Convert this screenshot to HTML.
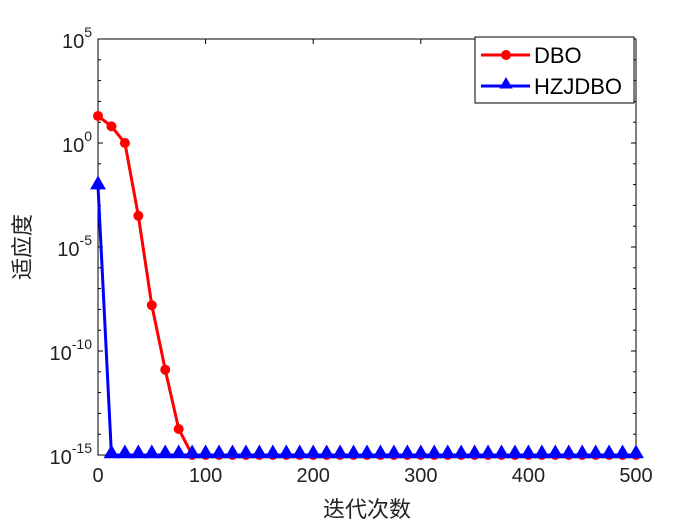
<!DOCTYPE html>
<html><head><meta charset="utf-8"><style>
body{margin:0;background:#fff;}
svg text{font-family:"Liberation Sans","Noto Sans CJK SC",sans-serif;}
</style></head><body>
<svg id="chart" width="700" height="525">
<rect width="700" height="525" fill="#fff"/>
<g id="axes"></g><g id="series"></g><g id="legend"></g>
</svg>
<script>
const iterations=[0,12.5,25,37.5,50,62.5,75,87.5,100,112.5,125,137.5,150,162.5,175,187.5,200,212.5,225,237.5,250,262.5,275,287.5,300,312.5,325,337.5,350,362.5,375,387.5,400,412.5,425,437.5,450,462.5,475,487.5,500];
const dboLog=[1.3,0.8,0,-3.5,-7.8,-10.9,-13.75,-15,-15,-15,-15,-15,-15,-15,-15,-15,-15,-15,-15,-15,-15,-15,-15,-15,-15,-15,-15,-15,-15,-15,-15,-15,-15,-15,-15,-15,-15,-15,-15,-15,-15];
const hzjLog=[-2.07,-15,-15,-15,-15,-15,-15,-15,-15,-15,-15,-15,-15,-15,-15,-15,-15,-15,-15,-15,-15,-15,-15,-15,-15,-15,-15,-15,-15,-15,-15,-15,-15,-15,-15,-15,-15,-15,-15,-15,-15];
const xTicks=[0,100,200,300,400,500];
const yTicks=[5,0,-5,-10,-15];
const L=98,R=636,T=39,B=455;
const sx=v=>L+(v/500)*(R-L);
const sy=e=>T+(5-e)/20*(B-T);
const NS="http://www.w3.org/2000/svg";
function mk(tag,attrs,parent){const e=document.createElementNS(NS,tag);for(const k in attrs)e.setAttribute(k,attrs[k]);parent.appendChild(e);return e;}
const ax=document.getElementById('axes');
let box=mk('rect',{x:L,y:T,width:R-L,height:B-T,fill:'none',stroke:'#000','stroke-width':1},ax);


xTicks.forEach(v=>{
 mk('line',{x1:sx(v),x2:sx(v),y1:B,y2:B-5,stroke:'#000'},ax);
 mk('line',{x1:sx(v),x2:sx(v),y1:T,y2:T+5,stroke:'#000'},ax);
 const t=mk('text',{x:sx(v),y:B+27,'font-size':20,'text-anchor':'middle',fill:'#222'},ax);t.textContent=v;
 
 
});
for(let e=-15;e<=5;e++){
 const len=(e%5===0)?5:3;
 mk('line',{x1:L,x2:L+len,y1:sy(e),y2:sy(e),stroke:'#000'},ax);
 mk('line',{x1:R,x2:R-len,y1:sy(e),y2:sy(e),stroke:'#000'},ax);
}
yTicks.forEach(e=>{
 const t=mk('text',{x:L-6,y:sy(e)+9,'font-size':20,'text-anchor':'end',fill:'#222'},ax);
 t.innerHTML='10<tspan dy="-11" font-size="14">'+e+'</tspan>';
 
 
});
let xt=mk('text',{x:(L+R)/2,y:517,'font-size':22,'text-anchor':'middle',fill:'#222'},ax);xt.textContent='迭代次数';


let yt=mk('text',{x:0,y:0,'font-size':22,'text-anchor':'middle',fill:'#222',transform:'translate(30,247) rotate(-90)'},ax);yt.textContent='适应度';


const sg=document.getElementById('series');
function tri(x,y,s){return `${x},${y-s} ${x-s*0.95},${y+s*0.65} ${x+s*0.95},${y+s*0.65}`;}
function drawSeries(vals,color,name,marker){
 const g=mk('g',{},sg);
 
 
 const pts=iterations.map((v,i)=>sx(v)+','+sy(vals[i])).join(' ');
 mk('polyline',{points:pts,fill:'none',stroke:color,'stroke-width':3},g);
 iterations.forEach((v,i)=>{
  let m;
  if(marker==='o') m=mk('circle',{cx:sx(v),cy:sy(vals[i]),r:5,fill:color},g);
  else m=mk('polygon',{points:tri(sx(v),sy(vals[i])-2,7),fill:color,stroke:color,'stroke-width':1.5},g);
  
  
 });
}
drawSeries(dboLog,'#ff0000','dbo-series','o');
drawSeries(hzjLog,'#0000ff','hzjdbo-series','t');
const lg=document.getElementById('legend');
let lb=mk('rect',{x:475,y:37,width:159,height:66,fill:'#fff',stroke:'#000'},lg);


[['DBO','#ff0000','o',55],['HZJDBO','#0000ff','t',86]].forEach(([n,c,m,y])=>{
 mk('line',{x1:481,x2:530,y1:y,y2:y,stroke:c,'stroke-width':3},lg);
 if(m==='o') mk('circle',{cx:506,cy:y,r:5,fill:c},lg);
 else mk('polygon',{points:tri(506,y-2,7),fill:c},lg);
 const t=mk('text',{x:534,y:y+8,'font-size':22,fill:'#000'},lg);t.textContent=n;
 
 
});
</script>
</body></html>
